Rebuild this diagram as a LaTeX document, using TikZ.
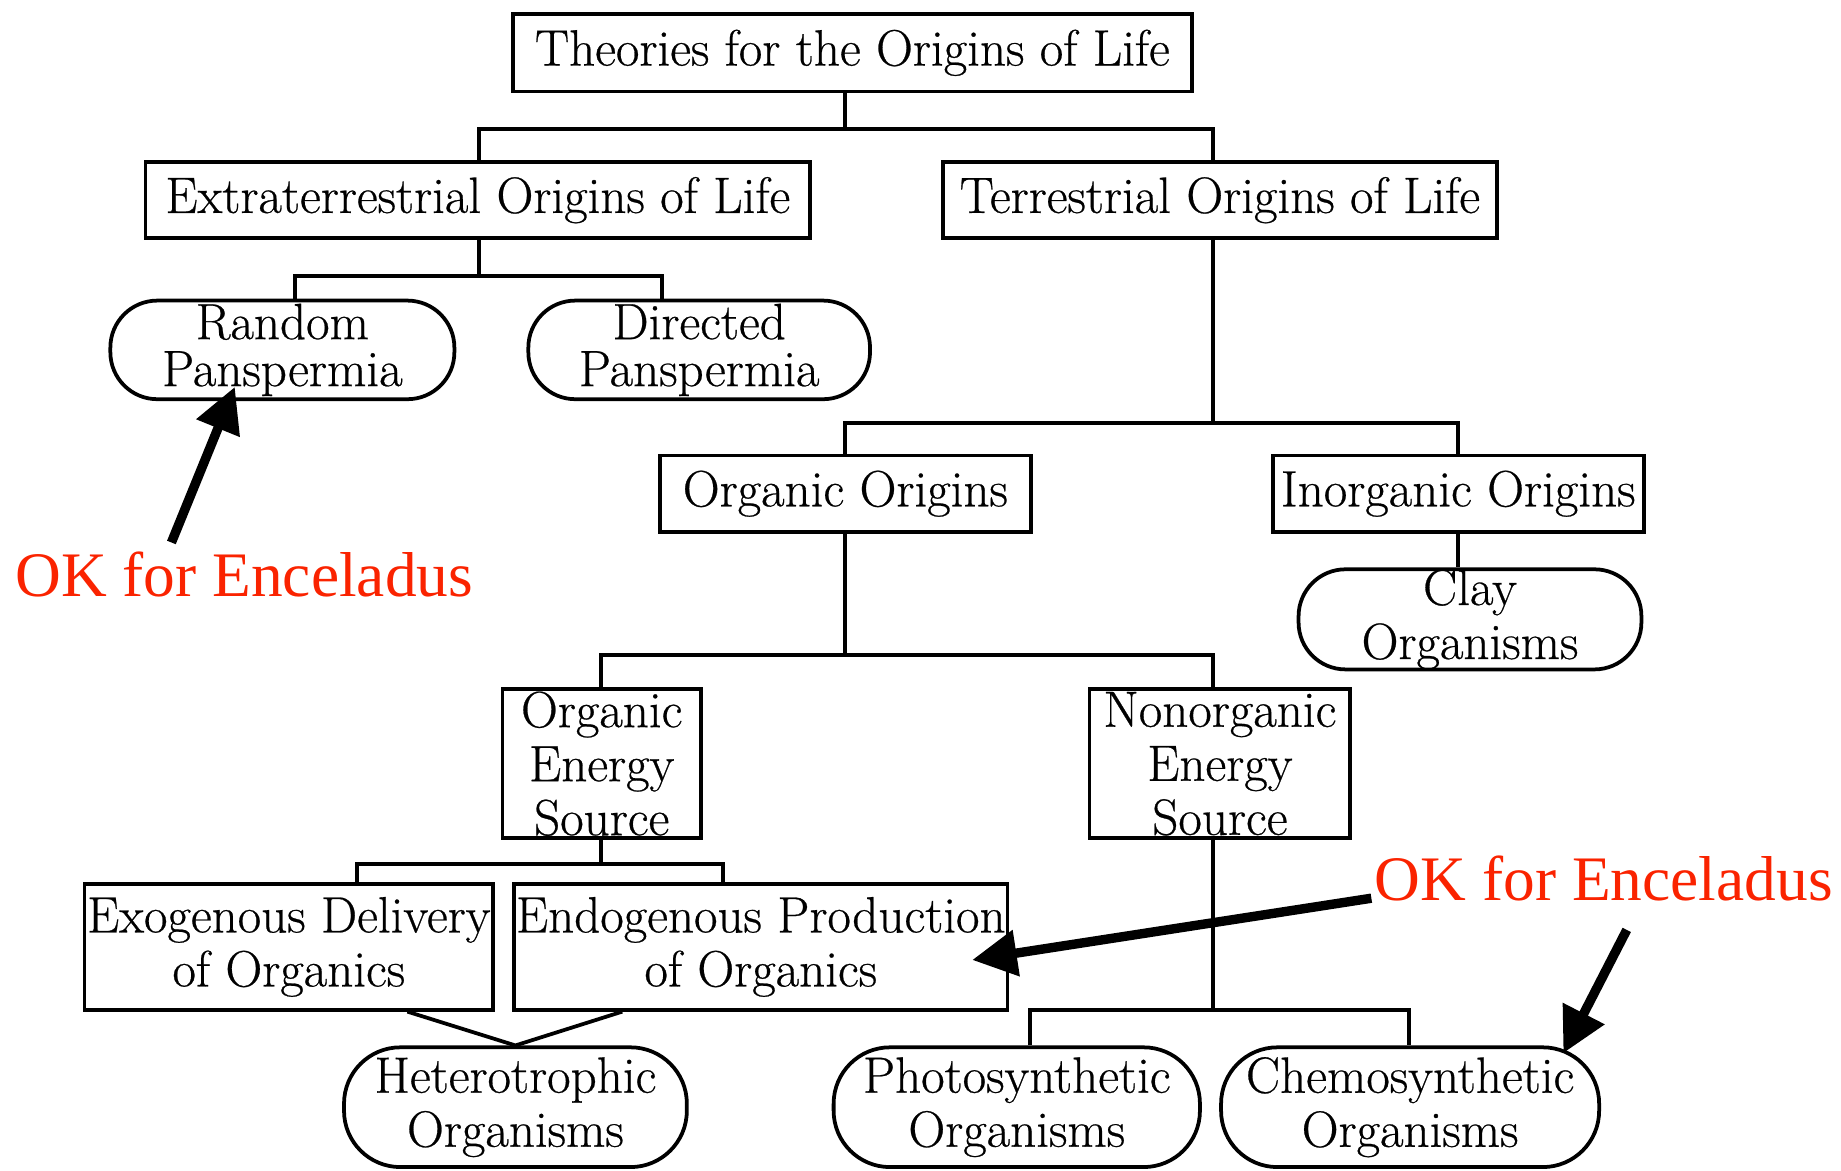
\documentclass[tikz,border=0pt]{standalone}
\usepackage{fontspec}
\newfontfamily\redfont{Liberation Serif}
\newfontfamily\boxfont{Latin Modern Roman}[FakeBold=0.5]
\usetikzlibrary{arrows.meta}
\definecolor{okred}{RGB}{250,35,0}
\begin{document}
\begin{tikzpicture}[x=1pt,y=-1pt,
  box/.style={draw, line width=3.2pt, rectangle, inner sep=0pt, align=center,
    font=\boxfont\fontsize{43.5}{46}\selectfont},
  rbox/.style={box, rounded corners=40pt},
  tightbox/.style={font=\boxfont\fontsize{43.5}{40}\selectfont},
  conn/.style={line width=3.2pt},
  okarrow/.style={line width=8pt, -{Triangle[length=38pt,width=38pt]}},
  oklabel/.style={text=okred, font=\redfont\fontsize{54}{60}\selectfont,
    inner sep=0pt, anchor=base}]
\useasboundingbox (0,0) rectangle (1568,997);

% nodes
\node[box, minimum width=578pt, minimum height=66pt] (top) at (726,45) {Theories for the Origins of Life};
\node[box, minimum width=566pt, minimum height=65pt] (ext) at (407,170.5) {Extraterrestrial Origins of Life};
\node[box, minimum width=472pt, minimum height=65pt] (ter) at (1039,170.5) {Terrestrial Origins of Life};
\node[rbox, tightbox, minimum width=293pt, minimum height=84pt] (rand) at (240.5,298) {Random\\Panspermia};
\node[rbox, tightbox, minimum width=291pt, minimum height=84pt] (dir) at (595.5,298) {Directed\\Panspermia};
\node[box, minimum width=316pt, minimum height=65pt] (org) at (720,420.5) {Organic Origins};
\node[box, minimum width=316pt, minimum height=65pt] (inorg) at (1242,420.5) {Inorganic Origins};
\node[rbox, minimum width=292pt, minimum height=83pt] (clay) at (1252,527.5) {Clay\\Organisms};
\node[box, minimum width=169pt, minimum height=127pt] (oes) at (512.5,650.5) {Organic\\Energy\\Source};
\node[box, minimum width=222pt, minimum height=127pt] (nes) at (1039,650.5) {Nonorganic\\Energy\\Source};
\node[box, minimum width=348pt, minimum height=107pt] (exo) at (246,806.5) {Exogenous Delivery\\of Organics};
\node[box, minimum width=420pt, minimum height=107pt] (endo) at (648,806.5) {Endogenous Production\\of Organics};
\node[rbox, rounded corners=48pt, minimum width=292pt, minimum height=102pt] (het) at (439,943) {Heterotrophic\\Organisms};
\node[rbox, rounded corners=48pt, minimum width=312pt, minimum height=102pt] (pho) at (866,943) {Photosynthetic\\Organisms};
\node[rbox, rounded corners=48pt, minimum width=322pt, minimum height=102pt] (che) at (1201,943) {Chemosynthetic\\Organisms};

% junction coordinates
\coordinate (a1) at (720,110); \coordinate (a2) at (408,110); \coordinate (a3) at (1033,110);
\coordinate (b1) at (408,235); \coordinate (b2) at (251,235); \coordinate (b3) at (564,235);
\coordinate (c1) at (1033,360); \coordinate (c2) at (720,360); \coordinate (c3) at (1242,360);
\coordinate (d1) at (720,558); \coordinate (d2) at (512,558); \coordinate (d3) at (1033,558);
\coordinate (e1) at (512,736); \coordinate (e2) at (304,736); \coordinate (e3) at (616,736);
\coordinate (f1) at (347,860); \coordinate (f2) at (530,860);
\coordinate (g1) at (1033,860); \coordinate (g2) at (877,860); \coordinate (g3) at (1200,860);

% connectors
\draw[conn] (top.south -| a1) -- (a1);
\draw[conn] (ext.north -| a2) -- (a2) -- (a3) -- (ter.north -| a3);
\draw[conn] (ext.south -| b1) -- (b1);
\draw[conn] (rand.north -| b2) -- (b2) -- (b3) -- (dir.north -| b3);
\draw[conn] (ter.south -| c1) -- (c1);
\draw[conn] (org.north -| c2) -- (c2) -- (c3) -- (inorg.north -| c3);
\draw[conn] (inorg.south) -- (inorg.south |- clay.north);
\draw[conn] (org.south -| d1) -- (d1);
\draw[conn] (oes.north -| d2) -- (d2) -- (d3) -- (nes.north -| d3);
\draw[conn] (oes.south -| e1) -- (e1);
\draw[conn] (exo.north -| e2) -- (e2) -- (e3) -- (endo.north -| e3);
\draw[conn] (exo.south -| f1) -- (het.north) -- (endo.south -| f2);
\draw[conn] (nes.south -| g1) -- (g1);
\draw[conn] (pho.north -| g2) -- (g2) -- (g3) -- (che.north -| g3);

% red labels and arrows
\node[oklabel] (ok1) at (208,508) {OK for Enceladus};
\node[oklabel] (ok2) at (1366,767) {OK for Enceladus};
\coordinate (t1) at (146,462); \coordinate (h1) at (200,329.5);
\coordinate (t2) at (1168,765); \coordinate (h2) at (828,817.6);
\coordinate (t3) at (1385.5,792); \coordinate (h3) at (1331.5,897);
\draw[okarrow] (t1) -- (h1);
\draw[okarrow] (t2) -- (h2);
\draw[okarrow] (t3) -- (h3);
\end{tikzpicture}
\end{document}
